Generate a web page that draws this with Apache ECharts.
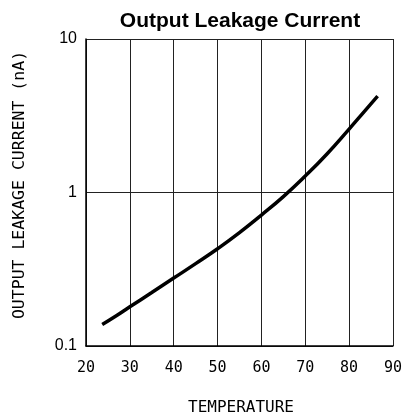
<!DOCTYPE html>
<html><head><meta charset="utf-8">
<script src="https://cdn.jsdelivr.net/npm/echarts@6/dist/echarts.min.js"></script>
<style>html,body{margin:0;padding:0;background:#fff}#c{width:405px;height:419px}</style>
</head><body><div id="c"></div>
<script>
var temperature = [23.7, 27, 30, 35, 40, 45, 50, 55, 60, 65, 70, 75, 80, 83, 86.5];
var leakage     = [0.138, 0.158, 0.180, 0.223, 0.277, 0.344, 0.430, 0.548, 0.713, 0.94, 1.28, 1.79, 2.59, 3.25, 4.24];
var xTicks = [20, 30, 40, 50, 60, 70, 80, 90];
var yTicks = [0.1, 1, 10];
var titleText = 'Output Leakage Current';
var xName = 'TEMPERATURE';
var yName = 'OUTPUT LEAKAGE CURRENT (nA)';

var chart = echarts.init(document.getElementById('c'));
chart.setOption({
  animation: false,
  title: { text: titleText, left: 235, textAlign: 'center', top: 6,
    textStyle: { fontFamily: 'Liberation Sans', fontWeight: 'bold', fontSize: 21, color: '#000' } },
  grid: { left: 86, right: 9, top: 39, bottom: 73 },
  xAxis: {
    type: 'value', min: xTicks[0], max: xTicks[xTicks.length-1], interval: 10,
    axisLine: { show: true, lineStyle: { color: '#000', width: 1.5 } },
    axisTick: { show: false },
    axisLabel: { fontFamily: 'DejaVu Sans Mono', fontSize: 15, color: '#000', margin: 15 },
    splitLine: { show: true, lineStyle: { color: '#222', width: 1 } }
  },
  yAxis: {
    type: 'log', logBase: 10, min: yTicks[0], max: yTicks[yTicks.length-1],
    axisLine: { show: true, lineStyle: { color: '#000', width: 1.5 } },
    axisTick: { show: false },
    axisLabel: { fontFamily: 'Liberation Sans', fontSize: 16, color: '#000', margin: 9,
      formatter: function(v){ return String(+v.toPrecision(3)); } },
    splitLine: { show: true, lineStyle: { color: '#222', width: 1 } },
    minorTick: { show: false }, minorSplitLine: { show: false }
  },
  graphic: [
    { type: 'text', x: 241, y: 408, style: { text: xName, fontFamily: 'DejaVu Sans Mono', fontSize: 16,
      fill: '#000', textAlign: 'center', textVerticalAlign: 'middle' } },
    { type: 'text', x: 20, y: 185, rotation: Math.PI / 2, style: { text: yName, fontFamily: 'DejaVu Sans Mono', fontSize: 16.5,
      fill: '#000', textAlign: 'center', textVerticalAlign: 'middle' } }
  ],
  series: [{
    type: 'line', smooth: 0.5, symbol: 'none',
    data: temperature.map(function(t,i){ return [t, leakage[i]]; }),
    lineStyle: { color: '#000', width: 3.5 }
  }]
});
</script></body></html>
